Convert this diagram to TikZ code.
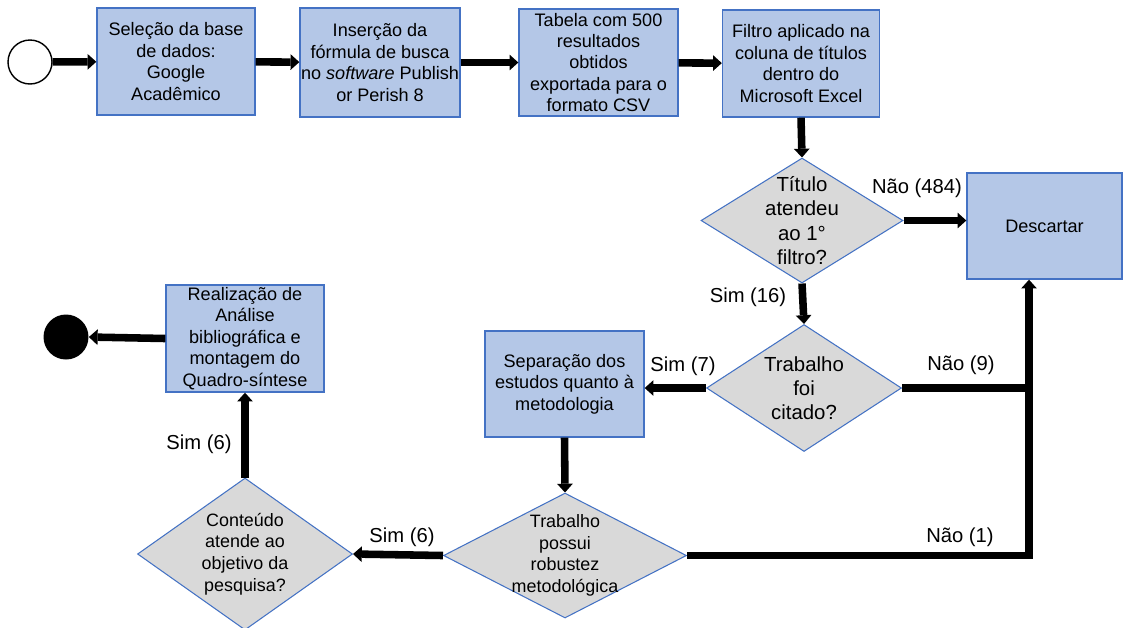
\documentclass[tikz,border=0pt]{standalone}
\usepackage{fontspec}
\setmainfont{Liberation Sans}
\usetikzlibrary{arrows.meta,positioning,shapes.geometric}
\definecolor{boxblue}{HTML}{B4C7E7}
\definecolor{edgeblue}{HTML}{4472C4}
\definecolor{decgray}{HTML}{D9D9D9}

\begin{document}
\begin{tikzpicture}[x=0.02cm,y=-0.02cm,
    proc/.style={draw=edgeblue,line width=0.8pt,fill=boxblue,inner sep=0pt,align=center,font=\fontsize{10.3}{12.2}\selectfont},
    dec/.style={diamond,draw=edgeblue,line width=0.6pt,fill=decgray,inner sep=0pt},
    dtext/.style={align=center,inner sep=0pt,font=\fontsize{10.2}{12.3}\selectfont},
    dtextbig/.style={align=center,inner sep=0pt,font=\fontsize{11.6}{13.8}\selectfont},
    lbl/.style={inner sep=0pt,font=\fontsize{11.5}{13}\selectfont},
    flow/.style={line width=4.3pt,-{Triangle[length=5pt,width=9pt,line width=0pt]}},
    link/.style={line width=4.3pt}]
    \useasboundingbox (0,0) rectangle (1124,627);
    \node[circle,draw,line width=0.8pt,fill=white,minimum size=0.88cm,inner sep=0pt] (start) at (30,62) {};
    \node[proc,minimum width=3.16cm,minimum height=2.14cm] (sel) at (176,61.5) {Seleção da base\\de dados:\\Google\\Acadêmico};
    \node[proc,minimum width=3.2cm,minimum height=2.18cm] (ins) at (380,62.5) {Inserção da\\fórmula de busca\\no \textit{software} Publish\\or Perish 8};
    \node[proc,minimum width=3.18cm,minimum height=2.14cm] (tab) at (598.5,62.5) {Tabela com 500\\resultados\\obtidos\\exportada para o\\formato CSV};
    \node[proc,minimum width=3.14cm,minimum height=2.14cm] (fil) at (801,63.5) {Filtro aplicado na\\coluna de títulos\\dentro do\\Microsoft Excel};
    \node[dec,minimum width=4.04cm,minimum height=2.5cm] (d1) at (802,220.5) {};
    \node[dtextbig] (d1t) at (d1) {Título\\atendeu\\ao 1°\\filtro?};
    \node[proc,minimum width=3.1cm,minimum height=2.12cm] (desc) at (1044.5,226) {Descartar};
    \node[dec,minimum width=3.9cm,minimum height=2.54cm] (d2) at (804,388) {};
    \node[dtextbig] (d2t) at (d2) {Trabalho\\foi\\citado?};
    \node[proc,minimum width=3.18cm,minimum height=2.12cm] (sep) at (564.5,384) {Separação dos\\estudos quanto à\\metodologia};
    \node[dec,minimum width=4.86cm,minimum height=2.5cm] (d3) at (565,555.5) {};
    \node[dtext] (d3t) at (d3) {Trabalho\\possui\\robustez\\metodológica};
    \node[dec,minimum width=4.3cm,minimum height=3.04cm] (d4) at (245,554) {};
    \node[dtext] (d4t) at (d4) {Conteúdo\\atende ao\\objetivo da\\pesquisa?};
    \node[proc,minimum width=3.16cm,minimum height=2.14cm] (real) at (245,338.5) {Realização de\\Análise\\bibliográfica e\\montagem do\\Quadro-síntese};
    \node[circle,fill=black,minimum size=0.9cm,inner sep=0pt] (end) at (66,337) {};
    \coordinate (joinB) at (1029,555.5);

    \draw[flow] (start) -- (sel);
    \draw[flow] (sel) -- (ins);
    \draw[flow] (ins) -- (tab);
    \draw[flow] (tab) -- (fil);
    \draw[flow] (fil.south) -- (d1.north);
    \draw[flow] (d1.east) -- (d1.east -| desc.west);
    \draw[flow] (d1.south) -- (d2.north);
    \draw[flow] (d2.west) -- (d2.west -| sep.east);
    \draw[link] (d2.east) -- (d2.east -| joinB);
    \draw[flow] (sep.south) -- (d3.north);
    \draw[flow,line join=miter] (d3.east) -- (joinB) -- (joinB |- desc.south);
    \draw[flow] (d3.west) -- (d4.east);
    \draw[flow] (d4.north) -- (real.south);
    \draw[flow] (real.west) -- (end.east);

    \node[lbl] (nao484) at (917,188) {Não (484)};
    \node[lbl] (sim16) at (748,297) {Sim (16)};
    \node[lbl] (sim7) at (683,366) {Sim (7)};
    \node[lbl] (nao9) at (961,365) {Não (9)};
    \node[lbl] (nao1) at (960,537) {Não (1)};
    \node[lbl] (sim6a) at (402,537) {Sim (6)};
    \node[lbl] (sim6b) at (199,444) {Sim (6)};
\end{tikzpicture}
\end{document}
